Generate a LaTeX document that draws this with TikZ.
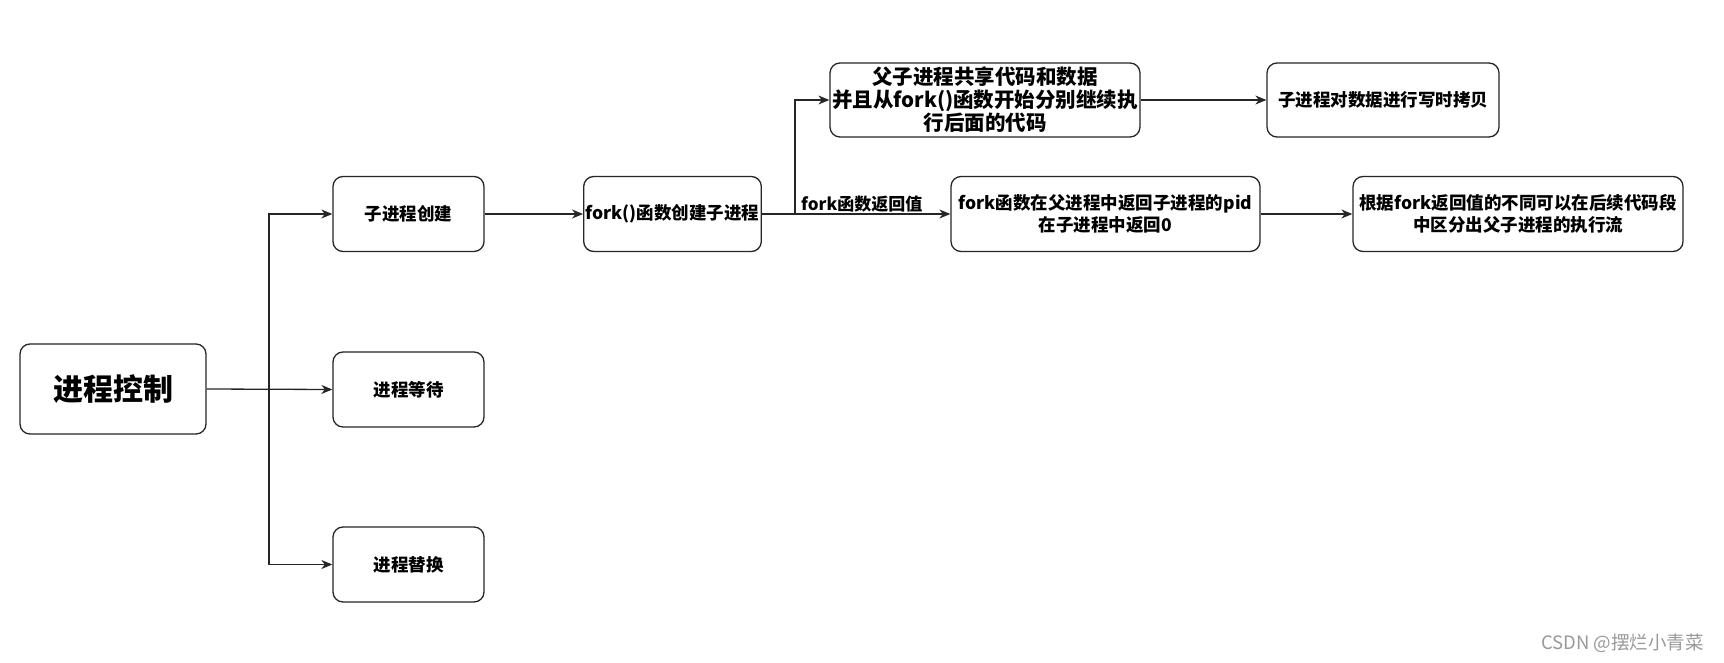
\documentclass[tikz,border=0pt]{standalone}
\usepackage{fontspec}
\setmainfont{Noto Sans CJK SC}
\usepackage{tikz}
\usetikzlibrary{arrows.meta, positioning, calc}
\tikzset{
  box/.style={rectangle,rounded corners=10pt,draw=black!85,line width=1.3pt,fill=white,align=center,font=\fontsize{17.5}{22}\selectfont\bfseries,inner sep=2pt},
  smallbox/.style={box,minimum width=151pt,minimum height=75pt},
  bigbox/.style={box,font=\fontsize{20.5}{23}\selectfont\bfseries},
  rootbox/.style={box,minimum width=186pt,minimum height=90pt,font=\fontsize{30}{34}\selectfont\bfseries},
  link/.style={draw=black!85,line width=1.3pt,-{Stealth[length=11pt,width=9pt,inset=3.5pt]}},
  lbl/.style={font=\fontsize{17}{20}\selectfont\bfseries,inner sep=2pt},
  wmark/.style={font=\fontsize{18.5}{20}\selectfont,text=black!40,inner sep=0pt},
}
\begin{document}
\begin{tikzpicture}[x=1pt,y=-1pt]
  \useasboundingbox[fill=white] (0,0) rectangle (1724,663);
  \node[rootbox] (ctl) at (113,389) {进程控制};
  \node[smallbox] (create) at (408.5,214) {子进程创建};
  \node[smallbox] (wait) at (408.5,389.5) {进程等待};
  \node[smallbox] (exec) at (408.5,564.5) {进程替换};
  \node[box,minimum width=177pt,minimum height=75pt] (fork) at (672.5,214) {fork()函数创建子进程};
  \node[bigbox,minimum width=310pt,minimum height=74pt] (share) at (985,100) {父子进程共享代码和数据\\并且从fork()函数开始分别继续执\\行后面的代码};
  \node[box,minimum width=309pt,minimum height=75pt] (ret) at (1105.5,214) {fork函数在父进程中返回子进程的pid\\在子进程中返回0};
  \node[box,minimum width=232pt,minimum height=74pt] (cow) at (1383,100) {子进程对数据进行写时拷贝};
  \node[box,minimum width=330pt,minimum height=75pt] (flow) at (1518,214) {根据fork返回值的不同可以在后续代码段\\中区分出父子进程的执行流};
  % branch points
  \coordinate (b1) at (269,389);
  \coordinate (b2) at (795,214);
  \draw[link] (ctl.east) -- (wait.west);
  \draw[link] (b1) |- (create.west);
  \draw[link] (b1) |- (exec.west);
  \draw[link] (create.east) -- (fork.west);
  \draw[link] (fork.east) -- (ret.west);
  \node[lbl,anchor=south west,xshift=4pt] (retlbl) at (b2) {fork函数返回值};
  \draw[link] (b2) |- (share.west);
  \draw[link] (share.east) -- (cow.west);
  \draw[link] (ret.east) -- (flow.west);
  \node[wmark,anchor=east] (wm) at (1704,643) {CSDN @摆烂小青菜};
\end{tikzpicture}
\end{document}
